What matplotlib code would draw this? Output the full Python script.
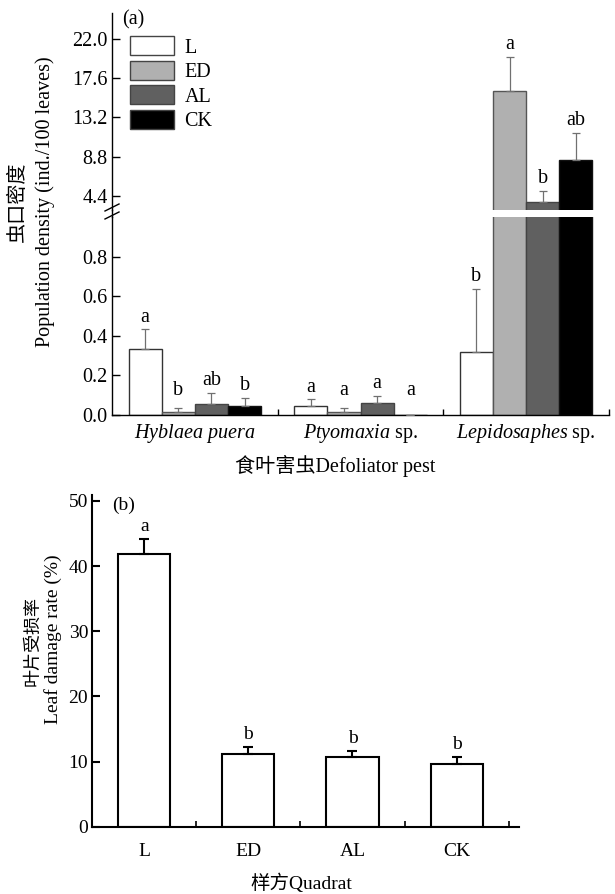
import matplotlib
matplotlib.use('Agg')
import matplotlib.pyplot as plt
import numpy as np
from matplotlib.patches import Patch
from matplotlib.lines import Line2D

plt.rcParams['font.family'] = ['Liberation Serif', 'Noto Sans CJK SC']
plt.rcParams['mathtext.fontset'] = 'custom'
plt.rcParams['mathtext.rm'] = 'Liberation Serif'
plt.rcParams['mathtext.it'] = 'Liberation Serif:italic'

# ---------------- data ----------------
treatments = ['L', 'ED', 'AL', 'CK']
pests = [r'$\mathit{Hyblaea\ puera}$', r'$\mathit{Ptyomaxia}$ sp.', r'$\mathit{Lepidosaphes}$ sp.']

dens_L = [0.335, 0.047, 0.32]
dens_ED = [0.014, 0.017, 16.2]
dens_AL = [0.056, 0.059, 3.76]
dens_CK = [0.047, 0.0, 8.43]

err_L = [0.097, 0.032, 0.315]
err_ED = [0.020, 0.017, 3.8]
err_AL = [0.057, 0.038, 1.2]
err_CK = [0.040, 0.0, 3.06]

let_L = ['a', 'a', 'b']
let_ED = ['b', 'a', 'a']
let_AL = ['ab', 'a', 'b']
let_CK = ['b', 'a', 'ab']

low_ticks = [0.0, 0.2, 0.4, 0.6, 0.8]
up_ticks = [4.4, 8.8, 13.2, 17.6, 22.0]

damage = [41.8, 11.15, 10.64, 9.62]
damage_err = [2.3, 1.12, 1.02, 1.02]
damage_let = ['a', 'b', 'b', 'b']
damage_ticks = [0, 10, 20, 30, 40, 50]

# ---------------- styling ----------------
colors = ['white', '#b0b0b0', '#606060', 'black']
edges = ['#333333', '#555555', '#444444', '#111111']
FA = 14.5   # panel a font size
FB = 14     # panel b font size

W, H = 615, 894
fig = plt.figure(figsize=(W / 100, H / 100), dpi=100)


def fa(l, t, r, b):
    return [l / W, 1 - b / H, (r - l) / W, (b - t) / H]


ax_lo = fig.add_axes(fa(112, 217, 609, 415))
ax_up = fig.add_axes(fa(112, 13, 609, 210))

x = np.arange(len(pests))
bw = 0.2
offs = (np.arange(4) - 1.5) * bw
vals = [dens_L, dens_ED, dens_AL, dens_CK]
errs = [err_L, err_ED, err_AL, err_CK]
lets = [let_L, let_ED, let_AL, let_CK]

for ax in (ax_lo, ax_up):
    for i in range(4):
        ax.bar(x + offs[i], vals[i], bw, color=colors[i], edgecolor=edges[i],
               linewidth=1.0, zorder=2)
        ax.errorbar(x + offs[i], vals[i], yerr=[np.zeros(3), errs[i]], fmt='none',
                    ecolor='#707070', elinewidth=0.9, capsize=2.8, capthick=0.9, zorder=3)
    ax.set_xlim(-0.5, 2.5)
    for s in ('top', 'right'):
        ax.spines[s].set_visible(False)
    ax.spines['left'].set_linewidth(1.0)
    ax.spines['bottom'].set_linewidth(1.0)
    ax.tick_params(axis='y', direction='in', length=6, width=1.0, labelsize=FA, pad=3)

ax_lo.set_ylim(0, 1.0)
ax_up.set_ylim(2.83, 24.9)
ax_lo.set_yticks(low_ticks)
ax_lo.set_yticklabels([f'{t:.1f}' for t in low_ticks])
ax_up.set_yticks(up_ticks)
ax_up.set_yticklabels([f'{t:.1f}' for t in up_ticks])
ax_up.spines['bottom'].set_visible(False)
ax_up.set_xticks([])

ax_lo.set_xticks(x)
ax_lo.set_xticklabels(pests, fontsize=FA)
ax_lo.tick_params(axis='x', which='major', length=0, pad=5)
ax_lo.set_xticks([0.5, 1.5, 2.5], minor=True)
ax_lo.tick_params(axis='x', which='minor', direction='in', length=4, width=1.0)

# significance letters
for i in range(4):
    for j in range(3):
        top = vals[i][j] + errs[i][j]
        if top > 1.0:
            ax_up.annotate(lets[i][j], (x[j] + offs[i], top), xytext=(0, 2),
                           textcoords='offset points', ha='center', va='bottom', fontsize=FA)
        else:
            ax_lo.annotate(lets[i][j], (x[j] + offs[i], max(top, 0.06)), xytext=(0, 2),
                           textcoords='offset points', ha='center', va='bottom', fontsize=FA)

# axis break marks
fig.add_artist(Line2D([112 / W, 112 / W], [1 - 217 / H, 1 - 210 / H], color='black', lw=1.0))
for yc in (207.5, 215.5):
    fig.add_artist(Line2D([105 / W, 119 / W], [1 - (yc + 3.5) / H, 1 - (yc - 3.5) / H],
                          color='black', lw=1.0))

# legend
handles = [Patch(facecolor=colors[i], edgecolor='#444444', linewidth=1.0) for i in range(4)]
fig.legend(handles, treatments, loc='upper left', bbox_to_anchor=(130 / W, 1 - 36 / H),
           frameon=False, fontsize=FA, handlelength=2.2, handleheight=1.1,
           labelspacing=0.15, handletextpad=0.5, borderpad=0, borderaxespad=0)

fig.text(122 / W, 1 - 20 / H, '(a)', fontsize=FA, ha='left', va='center')
fig.text(18 / W, 1 - 202 / H, '虫口密度', rotation=90, fontsize=FA, ha='center', va='center')
fig.text(45 / W, 1 - 202 / H, 'Population density (ind./100 leaves)', rotation=90,
         fontsize=FA, ha='center', va='center')
fig.text(335 / W, 1 - 466 / H, '食叶害虫Defoliator pest', fontsize=FA, ha='center', va='center')

# ---------------- panel b ----------------
axb = fig.add_axes(fa(92.3, 495, 519, 826.7))
xb = np.arange(len(treatments))
axb.bar(xb, damage, 0.5, color='white', edgecolor='black', linewidth=1.5, zorder=2)
axb.errorbar(xb, damage, yerr=[np.zeros(4), damage_err], fmt='none', ecolor='black',
             elinewidth=1.5, capsize=3.5, capthick=1.5, zorder=3)
for j in range(4):
    axb.annotate(damage_let[j], (xb[j], damage[j] + damage_err[j]), xytext=(0, 3),
                 textcoords='offset points', ha='center', va='bottom', fontsize=FB)
axb.set_xlim(-0.5, 3.6)
axb.set_ylim(0, 50.9)
for s in ('top', 'right'):
    axb.spines[s].set_visible(False)
axb.spines['left'].set_linewidth(1.5)
axb.spines['bottom'].set_linewidth(1.5)
axb.set_yticks(damage_ticks)
axb.tick_params(axis='y', direction='in', length=6, width=1.5, labelsize=FB, pad=3)
axb.set_xticks(xb)
axb.set_xticklabels(treatments, fontsize=FB)
axb.tick_params(axis='x', which='major', length=0, pad=12)
axb.set_xticks([0.5, 1.5, 2.5, 3.5], minor=True)
axb.tick_params(axis='x', which='minor', direction='in', length=4, width=1.2)

fig.text(112 / W, 1 - 505 / H, '(b)', fontsize=FB, ha='left', va='center')
fig.text(33 / W, 1 - 641 / H, '叶片受损率', rotation=90, fontsize=13, ha='center', va='center')
fig.text(53 / W, 1 - 639 / H, 'Leaf damage rate (%)', rotation=90, fontsize=FB,
         ha='center', va='center')
fig.text(301 / W, 1 - 883 / H, '样方Quadrat', fontsize=FB, ha='center', va='center')

fig.savefig('out.png', dpi=100)
